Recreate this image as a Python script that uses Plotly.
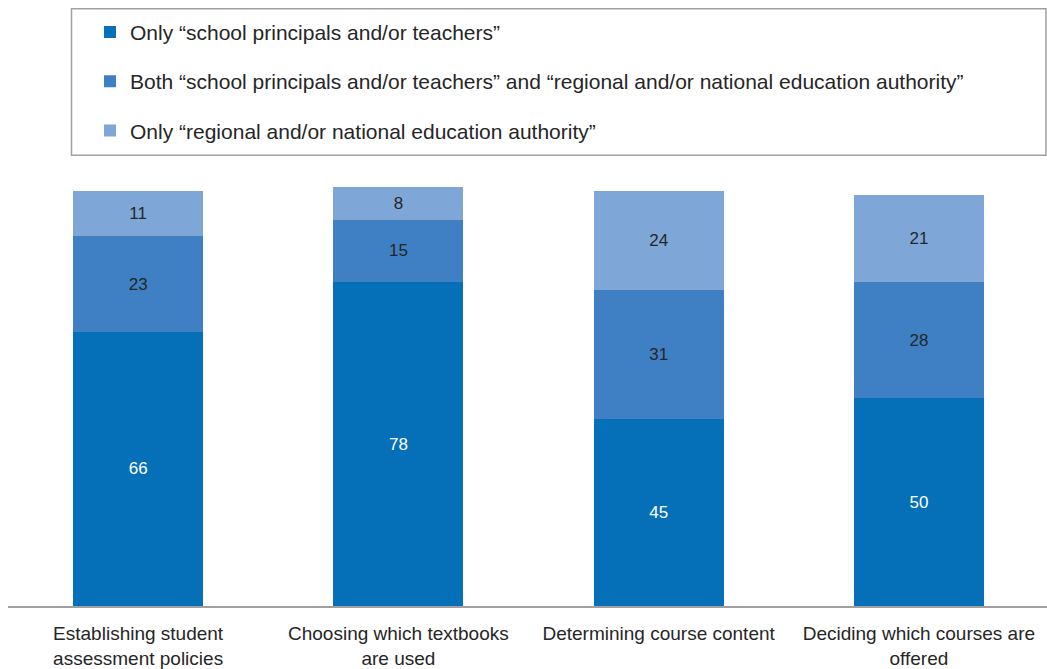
import plotly.graph_objects as go

categories = [
    "Establishing student<br>assessment policies",
    "Choosing which textbooks<br>are used",
    "Determining course content",
    "Deciding which courses are<br>offered",
]
only_school = [66, 78, 45, 50]
both = [23, 15, 31, 28]
only_authority = [11, 8, 24, 21]

series = [
    ("Only \u201cschool principals and/or teachers\u201d", only_school, "#0570b8", "white"),
    ("Both \u201cschool principals and/or teachers\u201d and \u201cregional and/or national education authority\u201d",
     both, "#3e80c3", "#262626"),
    ("Only \u201cregional and/or national education authority\u201d", only_authority, "#7ea6d7", "#262626"),
]

fig = go.Figure()
for i, (name, vals, color, txtcolor) in enumerate(series):
    fig.add_trace(go.Bar(
        x=categories, y=vals, name=name,
        marker=dict(color=color, line=dict(width=0)),
        text=vals, textposition="inside", insidetextanchor="middle",
        textangle=0, insidetextfont=dict(color=txtcolor, size=17),
        legendgroup="g%d" % i,
        width=0.5,
    ))

W, H = 1049, 669
ml, mr, mt, mb = 8, 0, 170, 58
pw, ph = W - ml - mr, H - mt - mb


def px_x(p):
    return (p - ml) / pw


def px_y(p):
    return (H - mb - p) / ph


fig.update_layout(
    width=W, height=H,
    barmode="stack",
    bargap=0.5,
    plot_bgcolor="white", paper_bgcolor="white",
    font=dict(family="Liberation Sans, Arial, sans-serif", color="#262626"),
    margin=dict(l=ml, r=mr, t=mt, b=mb),
    showlegend=True,
    legend=dict(
        x=px_x(90), y=px_y(10), xanchor="left", yanchor="top",
        traceorder="grouped", tracegroupgap=19,
        font=dict(size=21, color="#262626"),
        bgcolor="rgba(0,0,0,0)", borderwidth=0,
    ),
    shapes=[dict(
        type="rect", xref="paper", yref="paper",
        x0=px_x(71.5), x1=px_x(1046), y0=px_y(155), y1=px_y(7),
        line=dict(color="#a0a0a0", width=1.5), fillcolor="rgba(0,0,0,0)",
    )],
)
fig.update_xaxes(
    showline=True, linecolor="#a0a0a0", linewidth=2,
    showgrid=False, ticks="", ticklabelstandoff=9,
    tickfont=dict(size=19, color="#262626"),
)
fig.update_yaxes(range=[0, 105], visible=False, showgrid=False)

# drop the default page margin so the figure sits at the window corner
fig.write_html(
    "out.html",
    config={"displayModeBar": False},
    post_script="document.body.style.margin='0';document.body.style.overflow='hidden';",
)
